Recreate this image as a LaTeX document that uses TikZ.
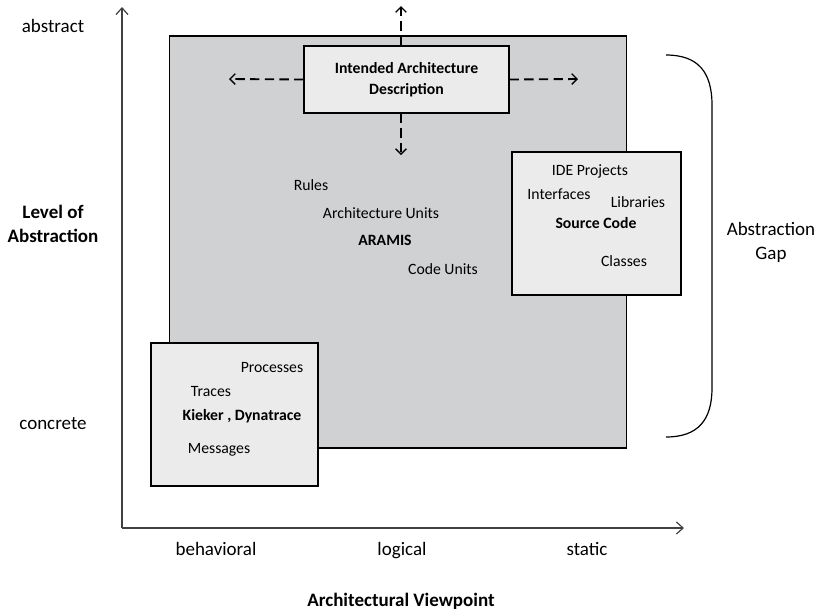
\documentclass[tikz,border=0pt]{standalone}
\usepackage{fontspec}
\setmainfont{Carlito}
\usetikzlibrary{arrows.meta}
\definecolor{panelgray}{HTML}{D0D1D3}
\definecolor{boxgray}{HTML}{EBEBEB}
\definecolor{axisgray}{HTML}{404040}
\tikzset{
  axislabel/.style={font=\fontsize{14.25}{18}\selectfont, align=center, inner sep=0pt},
  axistitle/.style={axislabel, font=\fontsize{14.25}{18}\selectfont\bfseries},
  oneline/.style={text height=0.92em, text depth=0.22em},
  term/.style={font=\fontsize{11.8}{15.75}\selectfont, inner sep=0pt, oneline},
  keyterm/.style={term, font=\fontsize{11.8}{15.75}\selectfont\bfseries},
  toolbox/.style={draw=black, fill=boxgray, line width=0.8pt},
  axisline/.style={draw=axisgray, line width=0.9pt, -{Straight Barb[length=5pt,width=9pt]}},
  spread/.style={draw=black, line width=1.4pt, dash pattern=on 7pt off 4pt, -{Straight Barb[length=4pt,width=8pt,line width=1pt]}}
}
\begin{document}
\begin{tikzpicture}[x=0.75pt,y=-0.75pt]
\path[use as bounding box] (0,0) rectangle (818,612);

% axes
\coordinate (origin) at (122,528);
\coordinate (ytip) at (122,7);
\coordinate (xtip) at (684,528);
\draw[axisline] (origin) -- (ytip);
\draw[axisline] (origin) -- (xtip);

% large logical panel
\node[draw=black, fill=panelgray, line width=0.8pt, minimum width=457*0.75pt, minimum height=412*0.75pt, inner sep=0pt] (panel) at (398,242) {};

% intended architecture box
\node[toolbox, minimum width=205*0.75pt, minimum height=67*0.75pt, align=center, font=\fontsize{11.8}{15.75}\selectfont\bfseries, inner sep=0pt] (iad) at (406.5,79.5) {Intended Architecture\\Description};

\coordinate (upend) at (401,6);
\coordinate (downend) at (401,155);
\coordinate (leftend) at (229,79);
\coordinate (rightend) at (578,79);
\draw[spread] (iad.north -| upend) -- (upend);
\draw[spread] (iad.south -| downend) -- (downend);
\draw[spread] (iad.west) -- (leftend);
\draw[spread] (iad.east) -- (rightend);

% ARAMIS terms
\node[term] (rules) at (311,186) {Rules};
\node[term] (archunits) at (381,214) {Architecture Units};
\node[keyterm] (aramis) at (385,241) {ARAMIS};
\node[term] (codeunits) at (443,270) {Code Units};

% source code box
\node[toolbox, minimum width=169*0.75pt, minimum height=143*0.75pt, inner sep=0pt] (srcbox) at (596.5,223.5) {};
\node[term] (ide) at (590,171) {IDE Projects};
\node[term] (interfaces) at (559,195) {Interfaces};
\node[term] (libraries) at (638,203) {Libraries};
\node[keyterm] (source) at (596,224) {Source Code};
\node[term] (classes) at (624,262) {Classes};

% runtime monitoring box
\node[toolbox, minimum width=167*0.75pt, minimum height=143*0.75pt, inner sep=0pt] (kbox) at (234.5,414.5) {};
\node[term] (processes) at (272,368) {Processes};
\node[term] (traces) at (211,392) {Traces};
\node[keyterm] (kieker) at (242,416) {Kieker , Dynatrace};
\node[term] (messages) at (219,449) {Messages};

% abstraction gap brace
\coordinate (bracetop) at (666,55);
\coordinate (bracebot) at (666,437);
\draw[black, line width=0.9pt] (bracetop) .. controls (698,55) and (712,72) .. (712,105)
  -- (712,388) .. controls (712,420) and (698,437) .. (bracebot);
\node[axislabel] (gap) at (771,242) {Abstraction\\Gap};

% axis annotations
\node[axislabel, oneline] (abstract) at (53,28) {abstract};
\node[axistitle] (level) at (53,224) {Level of\\Abstraction};
\node[axislabel, oneline] (concrete) at (53,425) {concrete};
\node[axislabel, oneline] (behavioral) at (216,551) {behavioral};
\node[axislabel, oneline] (logical) at (402,551) {logical};
\node[axislabel, oneline] (static) at (587,551) {static};
\node[axistitle, oneline] (viewpoint) at (401,602) {Architectural Viewpoint};
\end{tikzpicture}
\end{document}
